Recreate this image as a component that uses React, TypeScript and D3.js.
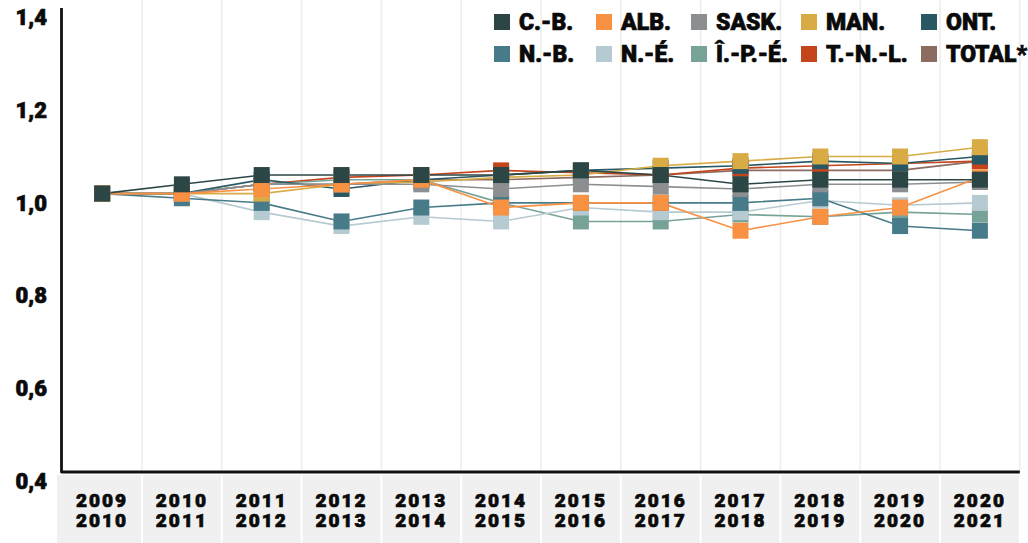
import React from "react";
import * as d3 from "d3";

const categories = ["2009-2010","2010-2011","2011-2012","2012-2013","2013-2014","2014-2015","2015-2016","2016-2017","2017-2018","2018-2019","2019-2020","2020-2021"];
const yTicks = [0.4, 0.6, 0.8, 1.0, 1.2, 1.4];

const seriesNames = ["C.-B.","ALB.","SASK.","MAN.","ONT.","N.-B.","N.-É.","Î.-P.-É.","T.-N.-L.","TOTAL*"];
const seriesColors = ["#2c4646","#f99143","#8c8f92","#d8ab45","#285863","#477b89","#b6cad1","#76a298","#c4441c","#8c6b60"];

const cb    = [1.00, 1.02, 1.04, 1.04, 1.04, 1.04, 1.05, 1.04, 1.02, 1.03, 1.03, 1.03];
const alb   = [1.00, 1.00, 1.01, 1.02, 1.03, 0.97, 0.98, 0.98, 0.92, 0.95, 0.97, 1.035];
const sask  = [1.00, 1.00, 1.02, 1.02, 1.02, 1.01, 1.02, 1.015, 1.01, 1.02, 1.02, 1.025];
const man   = [1.00, 1.00, 1.00, 1.02, 1.025, 1.035, 1.04, 1.06, 1.07, 1.08, 1.08, 1.10];
const ont   = [1.00, 1.00, 1.03, 1.01, 1.03, 1.04, 1.05, 1.055, 1.06, 1.07, 1.065, 1.08];
const nb    = [1.00, 0.99, 0.98, 0.94, 0.97, 0.98, 0.98, 0.98, 0.98, 0.99, 0.93, 0.92];
const ne    = [1.00, 1.00, 0.96, 0.93, 0.95, 0.94, 0.97, 0.96, 0.96, 0.985, 0.975, 0.98];
const ipe   = [1.00, 1.00, 1.02, 1.03, 1.03, 0.98, 0.94, 0.94, 0.955, 0.95, 0.96, 0.955];
const tnl   = [1.00, 1.00, 1.02, 1.035, 1.04, 1.05, 1.045, 1.04, 1.055, 1.06, 1.065, 1.07];
const total = [1.00, 1.00, 1.02, 1.02, 1.03, 1.03, 1.035, 1.04, 1.05, 1.05, 1.05, 1.07];

const seriesValues = [cb, alb, sask, man, ont, nb, ne, ipe, tnl, total];

const W = 1028, H = 543;
const FONT = "Roboto, 'Noto Sans', sans-serif";
const INK = "#0a0a0a";

export default function App() {
  const x = d3.scaleBand<string>().domain(categories).range([62.2, 1019.8]).padding(0);
  const y = d3.scaleLinear().domain([0.4, 1.4]).range([472, 8]);
  const bw = x.bandwidth();
  const cx = (c: string) => (x(c) as number) + bw / 2;
  const line = d3.line<number>().x((_, i) => cx(categories[i])).y((v) => y(v));
  const order = seriesNames.map((_, i) => i).reverse();
  const ms = 16;
  const legendX = [494, 596, 691, 801, 921];
  const legendY = [14, 46];
  const heavy = { stroke: INK, strokeWidth: 0.7, paintOrder: "stroke" as const };

  return (
    <svg width={W} height={H} style={{ position: "absolute", left: 0, top: 0, background: "#fff" }}>
      {categories.map((c, i) => (
        <line key={"g" + i} x1={(x(c) as number) + bw} x2={(x(c) as number) + bw} y1={0} y2={472} stroke="#ececec" strokeWidth={1.5} />
      ))}
      {categories.map((c, i) => {
        const x0 = i === 0 ? 57 : (x(c) as number) + 1;
        const x1 = (x(c) as number) + bw - 1;
        return <rect key={"r" + i} x={x0} y={475} width={x1 - x0} height={H - 475} fill="#f0f0f0" />;
      })}
      {categories.map((c, i) => {
        const [a, b] = c.split("-");
        return (
          <g key={"t" + i}>
            <text x={cx(c)} y={507} textAnchor="middle" fontFamily={FONT} fontWeight={900} fontSize={19} fill={INK} letterSpacing={2} {...heavy}>{a}</text>
            <text x={cx(c)} y={527} textAnchor="middle" fontFamily={FONT} fontWeight={900} fontSize={19} fill={INK} letterSpacing={2} {...heavy}>{b}</text>
          </g>
        );
      })}
      <path d={`M61.5,8 L61.5,472 L1019.8,472`} fill="none" stroke="#111" strokeWidth={2.8} strokeLinejoin="round" />
      {yTicks.map((t) => (
        <text key={"y" + t} x={47} y={y(t) + 17} textAnchor="end" fontFamily={FONT} fontWeight={900} fontSize={22} fill={INK} {...heavy}>
          {d3.format(".1f")(t).replace(".", ",")}
        </text>
      ))}
      {order.map((s) => (
        <path key={"l" + s} d={line(seriesValues[s]) as string} fill="none" stroke={seriesColors[s]} strokeWidth={1.6} />
      ))}
      {order.map((s) => (
        <g key={"m" + s}>
          {seriesValues[s].map((v, i) => (
            <rect key={i} x={cx(categories[i]) - ms / 2} y={y(v) - ms / 2} width={ms} height={ms} fill={seriesColors[s]} />
          ))}
        </g>
      ))}
      {seriesNames.map((n, i) => {
        const col = i % 5, row = Math.floor(i / 5);
        const lx = legendX[col], ly = legendY[row];
        return (
          <g key={"lg" + i}>
            <rect x={lx} y={ly} width={16} height={16} fill={seriesColors[i]} />
            <text x={lx + 25} y={ly + 16} fontFamily={FONT} fontWeight={900} fontSize={23} fill={INK} {...heavy}>{n}</text>
          </g>
        );
      })}
    </svg>
  );
}
